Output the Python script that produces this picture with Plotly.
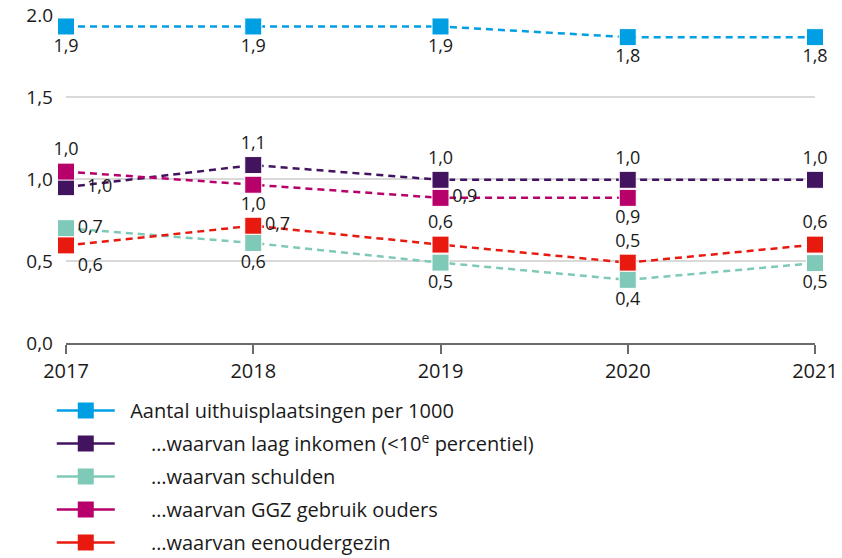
import plotly.graph_objects as go

years = [2017, 2018, 2019, 2020, 2021]

NB = "\u00a0"
names = [
    NB * 2 + "Aantal uithuisplaatsingen per 1000",
    NB * 6 + "…waarvan laag inkomen (<10<sup>e</sup> percentiel)",
    NB * 6 + "…waarvan schulden",
    NB * 6 + "…waarvan GGZ gebruik ouders",
    NB * 6 + "…waarvan eenoudergezin",
]

totaal = [1.93, 1.93, 1.93, 1.865, 1.865]
laag_inkomen = [0.95, 1.085, 0.995, 0.995, 0.995]
schulden = [0.70, 0.61, 0.49, 0.385, 0.487]
ggz = [1.045, 0.965, 0.885, 0.885, None]
eenouder = [0.595, 0.715, 0.60, 0.49, 0.60]

labels_totaal = ["1,9", "1,9", "1,9", "1,8", "1,8"]
labels_laag = [NB * 2 + "1,0", "1,1", "1,0", "1,0", "1,0"]
labels_schulden = ["0,7", "0,6", "0,5", "0,4", "0,5"]
labels_ggz = ["1,0", "1,0", "0,9", "0,9", ""]
labels_eenouder = ["0,6", "0,7", "0,6", "0,5", "0,6"]

pos_totaal = ["bottom center"] * 5
pos_laag = ["middle right", "top center", "top center", "top center", "top center"]
pos_schulden = ["middle right", "bottom center", "bottom center", "bottom center", "bottom center"]
pos_ggz = ["top center", "bottom center", "middle right", "bottom center", "bottom center"]
pos_eenouder = ["bottom right", "middle right", "top center", "top center", "top center"]

colors = ["#009fe3", "#42145f", "#7fc9b9", "#b8006b", "#e8190f"]

series = [
    (totaal, labels_totaal, pos_totaal),
    (laag_inkomen, labels_laag, pos_laag),
    (schulden, labels_schulden, pos_schulden),
    (ggz, labels_ggz, pos_ggz),
    (eenouder, labels_eenouder, pos_eenouder),
]

FONT = "Open Sans, sans-serif"

fig = go.Figure()
for i, (vals, labs, pos) in enumerate(series):
    fig.add_trace(go.Scatter(
        x=years, y=vals, name=names[i], mode="lines+markers+text",
        text=labs, textposition=pos,
        textfont=dict(family=FONT, size=18, color="#1a1a1a"),
        line=dict(color=colors[i], width=2.5, dash="7px,5px"),
        marker=dict(symbol="square", size=17, color=colors[i],
                    line=dict(color="white", width=1)),
        cliponaxis=False, connectgaps=False, showlegend=False,
    ))

# legend entries with solid lines, as in the reference
for i in range(len(series)):
    fig.add_trace(go.Scatter(
        x=[None], y=[None], name=names[i], mode="lines+markers",
        line=dict(color=colors[i], width=2.5),
        marker=dict(symbol="square", size=17, color=colors[i]),
        legendgroup=str(i), showlegend=True,
    ))

fig.update_layout(
    width=834, height=550,
    margin=dict(l=58, r=27, t=7, b=215, autoexpand=False),
    paper_bgcolor="white", plot_bgcolor="white",
    font=dict(family=FONT, size=19, color="#1a1a1a"),
    showlegend=True,
    legend=dict(
        x=-0.019, y=-0.146, xanchor="left", yanchor="top",
        orientation="v", traceorder="grouped", tracegroupgap=4,
        font=dict(size=20, color="#1a1a1a"), itemwidth=58,
    ),
    xaxis=dict(
        range=[2017, 2021], tickvals=years, ticktext=[str(y) for y in years],
        showgrid=False, zeroline=False, showline=True, linecolor="#6b6b6b",
        linewidth=2, ticks="outside", ticklen=9, tickcolor="#6b6b6b", tickwidth=1.5,
        tickfont=dict(size=20), automargin=False, ticklabeloverflow="allow",
    ),
    yaxis=dict(
        range=[0, 2.0], tickvals=[0, 0.5, 1.0, 1.5, 2.0],
        ticktext=["0,0", "0,5", "1,0", "1,5", "2.0"],
        showgrid=True, gridcolor="#d9d9d9", gridwidth=1.5, zeroline=False,
        showline=False, ticks="", tickfont=dict(size=19), ticklabelstandoff=12,
        automargin=False, ticklabeloverflow="allow",
    ),
)

fig.write_html("out.html")
